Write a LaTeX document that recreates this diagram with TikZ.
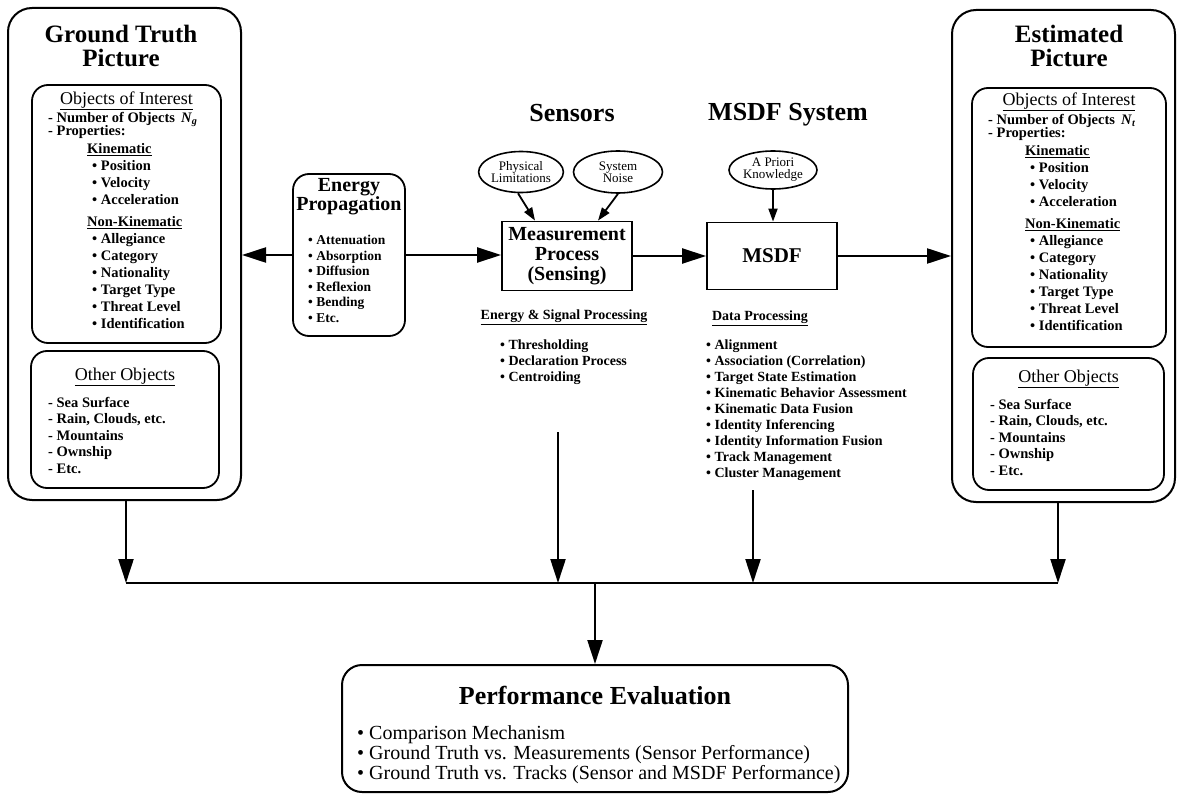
\documentclass[tikz,border=0pt]{standalone}
\usepackage{fontspec}
\setmainfont{Liberation Serif}
\usetikzlibrary{arrows.meta,shapes.geometric}
\tikzset{
  outerbox/.style={draw, line width=2pt, rounded corners=24pt, inner sep=0pt},
  innerbox/.style={draw, line width=1.8pt, rounded corners=16pt, inner sep=0pt},
  procbox/.style={draw, line width=1.8pt, inner sep=0pt, align=center},
  causeoval/.style={draw, ellipse, line width=1.6pt, inner sep=0pt, align=center, font=\fontsize{13}{12}\selectfont},
  bigtitle/.style={inner sep=0pt, align=center, font=\fontsize{25}{24}\selectfont\bfseries},
  boxhead/.style={inner sep=0pt, font=\fontsize{18}{18}\selectfont},
  itemlist/.style={inner sep=0pt, align=left, anchor=north west, font=\fontsize{14.5}{17}\selectfont\bfseries},
  flow/.style={line width=2.2pt, -{Triangle[length=24pt,width=15pt]}},
  cause/.style={line width=1.8pt, -{Triangle[length=13pt,width=9pt]}},
}
\begin{document}
\begin{tikzpicture}[x=1pt,y=-1pt]
\useasboundingbox (0,0) rectangle (1177,794);
% ground truth picture
\node[outerbox, minimum width=233pt, minimum height=492pt] (gt) at (124.5,254) {};
\node[bigtitle] (gttitle) at (121,46) {Ground Truth\\Picture};
\node[innerbox, minimum width=189pt, minimum height=258pt] (gtoi) at (126.5,214) {};
\node[boxhead] (gtoihead) at (126.5,101) {\underline{Objects of Interest}};
\node[itemlist] (gtnum) at (48,112) {- Number of Objects~\,\textit{N}\textsubscript{\textit{g}}\\[-4pt]- Properties:};
\node[itemlist] (gtkin) at (87,143) {\underline{Kinematic}\\
  \hspace*{5pt}\textbullet\ Position\\\hspace*{5pt}\textbullet\ Velocity\\\hspace*{5pt}\textbullet\ Acceleration};
\node[itemlist] (gtnonkin) at (87,216) {\underline{Non-Kinematic}\\
  \hspace*{5pt}\textbullet\ Allegiance\\\hspace*{5pt}\textbullet\ Category\\\hspace*{5pt}\textbullet\ Nationality\\
  \hspace*{5pt}\textbullet\ Target Type\\\hspace*{5pt}\textbullet\ Threat Level\\\hspace*{5pt}\textbullet\ Identification};
\node[innerbox, minimum width=188pt, minimum height=137pt] (gtoo) at (125,419.5) {};
\node[boxhead] (gtoohead) at (125,377) {\underline{Other Objects}};
\node[itemlist, font=\fontsize{14.5}{16.5}\selectfont\bfseries] (gtoolist) at (48,397) {- Sea Surface\\- Rain, Clouds, etc.\\- Mountains\\- Ownship\\- Etc.};

% estimated picture
\node[outerbox, minimum width=223pt, minimum height=492pt] (et) at (1063.5,256) {};
\node[bigtitle] (ettitle) at (1069,46) {Estimated\\Picture};
\node[innerbox, minimum width=194pt, minimum height=259pt] (etoi) at (1069,217.5) {};
\node[boxhead] (etoihead) at (1069,102) {\underline{Objects of Interest}};
\node[itemlist] (etnum) at (988,114) {- Number of Objects~\,\textit{N}\textsubscript{\textit{t}}\\[-4pt]- Properties:};
\node[itemlist] (etkin) at (1025,145) {\underline{Kinematic}\\
  \hspace*{5pt}\textbullet\ Position\\\hspace*{5pt}\textbullet\ Velocity\\\hspace*{5pt}\textbullet\ Acceleration};
\node[itemlist] (etnonkin) at (1025,218) {\underline{Non-Kinematic}\\
  \hspace*{5pt}\textbullet\ Allegiance\\\hspace*{5pt}\textbullet\ Category\\\hspace*{5pt}\textbullet\ Nationality\\
  \hspace*{5pt}\textbullet\ Target Type\\\hspace*{5pt}\textbullet\ Threat Level\\\hspace*{5pt}\textbullet\ Identification};
\node[innerbox, minimum width=191pt, minimum height=132pt] (etoo) at (1068.5,424) {};
\node[boxhead] (etoohead) at (1068.5,379) {\underline{Other Objects}};
\node[itemlist, font=\fontsize{14.5}{16.5}\selectfont\bfseries] (etoolist) at (990,399) {- Sea Surface\\- Rain, Clouds, etc.\\- Mountains\\- Ownship\\- Etc.};

% energy propagation
\node[innerbox, minimum width=112pt, minimum height=162pt] (energy) at (349,255) {};
\node[inner sep=0pt, align=center, font=\fontsize{20}{19}\selectfont\bfseries] (entitle) at (349,197) {Energy\\Propagation};
\node[itemlist, font=\fontsize{13.5}{15.6}\selectfont\bfseries] (enlist) at (308,235) {\textbullet\ Attenuation\\\textbullet\ Absorption\\\textbullet\ Diffusion\\\textbullet\ Reflexion\\\textbullet\ Bending\\\textbullet\ Etc.};

% sensors
\node[bigtitle, font=\fontsize{26}{26}\selectfont\bfseries] (senstitle) at (572,113) {Sensors};
\node[causeoval, minimum width=82pt, minimum height=41pt] (phys) at (521,172) {Physical\\Limitations};
\node[causeoval, minimum width=89pt, minimum height=42pt] (noise) at (618,172) {System\\Noise};
\node[procbox, minimum width=130pt, minimum height=69pt, font=\fontsize{20}{20}\selectfont\bfseries] (meas) at (567,256) {Measurement\\Process\\(Sensing)};
\node[inner sep=0pt, font=\fontsize{14}{16}\selectfont\bfseries] (senshead) at (564,317) {\underline{Energy \& Signal Processing}};
\node[itemlist, font=\fontsize{14}{16}\selectfont\bfseries] (senslist) at (500,340) {\textbullet\ Thresholding\\\textbullet\ Declaration Process\\\textbullet\ Centroiding};

% msdf system
\node[bigtitle, font=\fontsize{26}{26}\selectfont\bfseries] (msdftitle) at (788,115) {MSDF System};
\node[causeoval, minimum width=88pt, minimum height=38pt] (priori) at (773,170) {A Priori\\Knowledge};
\node[procbox, minimum width=130pt, minimum height=67pt, font=\fontsize{21}{21}\selectfont\bfseries] (msdf) at (772,256) {MSDF};
\node[inner sep=0pt, font=\fontsize{14}{16}\selectfont\bfseries] (dphead) at (760,318) {\underline{Data Processing}};
\node[itemlist, font=\fontsize{14}{16}\selectfont\bfseries] (dplist) at (706,340) {\textbullet\ Alignment\\\textbullet\ Association (Correlation)\\\textbullet\ Target State Estimation\\
  \textbullet\ Kinematic Behavior Assessment\\\textbullet\ Kinematic Data Fusion\\\textbullet\ Identity Inferencing\\
  \textbullet\ Identity Information Fusion\\\textbullet\ Track Management\\\textbullet\ Cluster Management};

% performance evaluation
\node[outerbox, rounded corners=20pt, minimum width=506pt, minimum height=127pt] (perf) at (595,728.5) {};
\node[inner sep=0pt, font=\fontsize{26}{26}\selectfont\bfseries] (perftitle) at (595,695) {Performance Evaluation};
\node[itemlist, font=\fontsize{20}{20}\selectfont] (perflist) at (357,725) {\textbullet\ Comparison Mechanism\\
  \textbullet\ Ground Truth vs. Measurements (Sensor Performance)\\\textbullet\ Ground Truth vs. Tracks (Sensor and MSDF Performance)};

% connectors
\draw[flow] (energy.west) -- (energy.west -| gt.east);
\draw[flow] (energy.east) -- (energy.east -| meas.west);
\draw[flow] (meas.east) -- (msdf.west);
\draw[flow] (msdf.east) -- (msdf.east -| et.west);
\draw[cause] (phys.south) ++(-3,0) -- ([xshift=-32pt]meas.north);
\draw[cause] (noise.south) -- ([xshift=31pt]meas.north);
\draw[cause] (priori.south) -- (msdf.north -| priori.south);

\coordinate (busgt) at (126,583);
\coordinate (bussens) at (558,583);
\coordinate (busdp) at (753,583);
\coordinate (buset) at (1058,583);
\coordinate (busmid) at (595,583);
\coordinate (sensdrop) at (558,432);
\coordinate (dpdrop) at (753,490);
\draw[line width=2.2pt] (busgt) -- (buset);
\draw[flow] (gt.south -| busgt) -- (busgt);
\draw[flow] (sensdrop) -- (bussens);
\draw[flow] (dpdrop) -- (busdp);
\draw[flow] (et.south -| buset) -- (buset);
\draw[flow] (busmid) -- (perf.north);
\end{tikzpicture}
\end{document}
